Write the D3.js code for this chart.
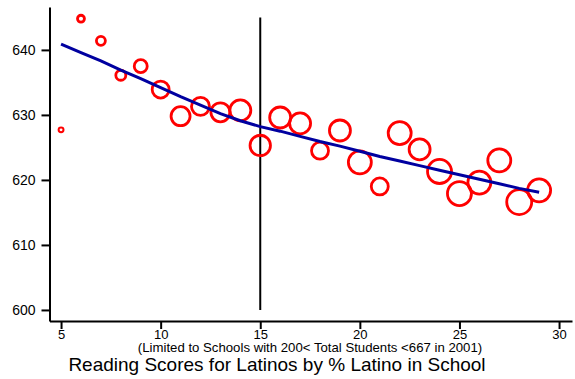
<!DOCTYPE html>
<html>
<head>
<meta charset="utf-8">
<script src="https://cdn.jsdelivr.net/npm/d3@7"></script>
<style>
  body { margin: 0; background: #fff; }
  text { font-family: "Liberation Sans", Arial, sans-serif; fill: #000; }
</style>
</head>
<body>
<svg width="575" height="379"></svg>
<script>
// % Latino in school
var pctLatino = [5, 6, 7, 8, 9, 10, 11, 12, 13, 14, 15, 16, 17, 18, 19, 20, 21, 22, 23, 24, 25, 26, 27, 28, 29];
// mean reading score for Latinos
var readScore = [627.7, 644.8, 641.4, 636.1, 637.5, 633.9, 629.8, 631.3, 630.4, 630.7, 625.3, 629.6, 628.7, 624.5, 627.6, 622.7, 619.0, 627.2, 624.7, 621.3, 617.9, 619.6, 623.0, 616.6, 618.4];
// weight (marker size)
var weight = [6, 12, 20, 25, 42, 72, 90, 81, 90, 110, 104, 110, 110, 72, 110, 132, 72, 132, 110, 144, 144, 132, 132, 156, 132];
// smoothed fit
var fitScore = [640.9, 639.6, 638.3, 636.9, 635.6, 634.2, 632.8, 631.5, 630.2, 629.1, 628.2, 627.5, 626.7, 625.9, 625.2, 624.4, 623.6, 622.9, 622.2, 621.5, 620.8, 620.1, 619.4, 618.7, 618.1];

var xTicks = [5, 10, 15, 20, 25, 30];
var yTicks = [600, 610, 620, 630, 640];
var cutoff = 15;
var subtitle = "(Limited to Schools with 200< Total Students <667 in 2001)";
var title = "Reading Scores for Latinos by % Latino in School";

var svg = d3.select("svg");

var x = d3.scaleLinear().domain([4.42, 30.65]).range([49.5, 572]);
var y = d3.scaleLinear().domain([598.3, 646.6]).range([321, 7]);
var r = d3.scaleSqrt().domain([0, 156]).range([0, 12.5]);

var data = pctLatino.map(function(d, i) {
  return { x: d, y: readScore[i], w: weight[i], fit: fitScore[i] };
});

// cutoff line at 15%
svg.append("line")
  .attr("x1", x(cutoff)).attr("x2", x(cutoff))
  .attr("y1", y(645)).attr("y2", y(600))
  .attr("stroke", "#000")
  .attr("stroke-width", 2);

// bubbles
svg.append("g")
  .selectAll("circle")
  .data(data)
  .enter()
  .append("circle")
  .attr("cx", function(d) { return x(d.x); })
  .attr("cy", function(d) { return y(d.y); })
  .attr("r", function(d) { return r(d.w); })
  .attr("fill", "none")
  .attr("stroke", "#ff0000")
  .attr("stroke-width", function(d) { return d.w < 10 ? 2 : 2.8; });

// fit line
svg.append("path")
  .datum(data)
  .attr("fill", "none")
  .attr("stroke", "#0000a0")
  .attr("stroke-width", 3)
  .attr("d", d3.line()
    .x(function(d) { return x(d.x); })
    .y(function(d) { return y(d.fit); }));

var gx = svg.append("g")
  .attr("transform", "translate(0,321)")
  .call(d3.axisBottom(x).tickValues(xTicks).tickSize(8).tickSizeOuter(0).tickPadding(0.5));

var gy = svg.append("g")
  .attr("transform", "translate(49.5,0)")
  .call(d3.axisLeft(y).tickValues(yTicks).tickSize(8).tickSizeOuter(0).tickPadding(6));

gx.selectAll("text").style("font-size", "13px");
gy.selectAll("text").style("font-size", "14px");
svg.selectAll(".domain, .tick line")
  .attr("stroke", "#000")
  .attr("stroke-width", 2);

svg.append("text")
  .attr("x", 310).attr("y", 351.5)
  .attr("text-anchor", "middle")
  .style("font-size", "13.2px")
  .text(subtitle);

svg.append("text")
  .attr("x", 277).attr("y", 370.5)
  .attr("text-anchor", "middle")
  .style("font-size", "19px")
  .text(title);
</script>
</body>
</html>
